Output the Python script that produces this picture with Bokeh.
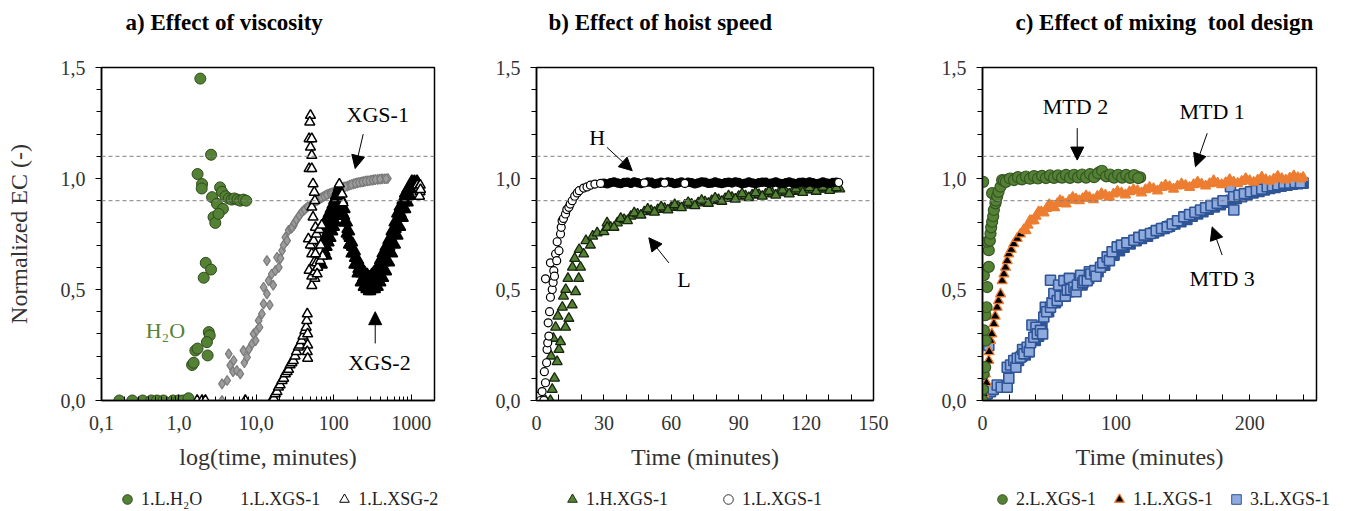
from bokeh.plotting import figure
from bokeh.layouts import row, column
from bokeh.models import (Range1d, FixedTicker, Span, Arrow, NormalHead, Label,
                          Legend, LegendItem)
from bokeh.embed import file_html
from bokeh.resources import INLINE

FONT = "Liberation Serif"

# ---------------- data: panel a (log time, minutes) ----------------
h2o_pts = [(0.17, 0), (0.25, 0), (0.34, 0), (0.44, 0), (0.52, 0), (0.63, 0), (0.84, 0), (0.99, 0),
           (1.13, 0), (1.33, 0.01), (1.48, 0.16), (1.55, 0.17), (1.63, 0.225), (1.74, 0.234),
           (1.89, 1.45), (1.74, 1.02), (1.99, 0.975), (1.97, 0.955), (2.22, 0.62), (2.6, 0.59),
           (2.09, 0.553), (2.43, 0.308), (2.5, 0.293), (2.3, 0.263), (2.35, 0.203), (2.6, 1.107),
           (2.8, 0.826), (2.95, 0.80), (3.4, 0.96), (3.6, 0.94), (2.68, 0.916), (3.1, 0.886),
           (3.7, 0.863), (3.25, 0.841), (4.0, 0.92), (4.4, 0.91), (4.8, 0.905), (5.2, 0.91),
           (5.7, 0.905), (6.2, 0.9), (6.8, 0.905), (7.4, 0.9)]

xgs1_pts = [(0.26, 0), (0.52, 0), (3.6, 0), (3.6, 0.075), (4.2, 0.09), (4.4, 0.21), (4.6, 0.158),
            (5.0, 0.13), (5.1, 0.18), (5.6, 0.135), (6.2, 0.12), (6.8, 0.225), (7.0, 0.17),
            (7.6, 0.195), (8.0, 0.23), (8.8, 0.255), (9.2, 0.30), (9.8, 0.27), (10.1, 0.315),
            (10.7, 0.36), (11.0, 0.33), (11.8, 0.39), (12.4, 0.435), (13.7, 0.48), (12.4, 0.51),
            (14.4, 0.54), (14.9, 0.43), (15.8, 0.57), (16.5, 0.52), (13.7, 0.63), (17.6, 0.585),
            (18.5, 0.645), (19.5, 0.60), (20.5, 0.64), (21.5, 0.675), (22.5, 0.70), (23.7, 0.735),
            (25.0, 0.72), (26.1, 0.766), (28.0, 0.775), (30.4, 0.788), (32.0, 0.805), (34.9, 0.826),
            (37.0, 0.84), (40.9, 0.856), (44.0, 0.866), (49.7, 0.878), (54.0, 0.89), (60.7, 0.9),
            (66.0, 0.91), (72.0, 0.916), (77.7, 0.923), (85.0, 0.93), (99.0, 0.938), (110.0, 0.946),
            (120.0, 0.952), (134.0, 0.961), (150.0, 0.966), (160.0, 0.97), (180.0, 0.976),
            (200.0, 0.98), (220.0, 0.983), (243.0, 0.986), (270.0, 0.989), (300.0, 0.992),
            (328.0, 0.994), (370.0, 0.996), (420.0, 0.998), (450.0, 0.999), (500.0, 1.0),
            (29, 0.78), (31, 0.8), (33, 0.815), (36, 0.833), (39, 0.85), (42, 0.86), (46, 0.872),
            (52, 0.884), (57, 0.895), (63, 0.905), (69, 0.913), (75, 0.92), (81, 0.926),
            (90, 0.933), (95, 0.936), (104, 0.942), (115, 0.949), (127, 0.957), (140, 0.963),
            (170, 0.973), (190, 0.978), (210, 0.982), (232, 0.985), (256, 0.988), (285, 0.99),
            (315, 0.993), (345, 0.995), (395, 0.997), (475, 0.999)]

# XGS-2: scattered readings
xgs2_pts = [(1.72, 0), (1.99, 0), (2.2, 0), (7.2, 0),
            (15.8, 0), (16.8, 0.01), (17.6, 0.03), (18.5, 0.04), (19.3, 0.06), (20.3, 0.07),
            (21.5, 0.09), (22.5, 0.1), (23.7, 0.12), (25, 0.13), (26.1, 0.14), (27.3, 0.16),
            (28.7, 0.17), (30, 0.18), (31.6, 0.2), (33, 0.22), (34.9, 0.24), (36.5, 0.25),
            (38.5, 0.27), (40, 0.29), (42.4, 0.315), (44, 0.33), (44.8, 0.36), (45.5, 0.39),
            (46, 0.3), (46, 0.25), (45.5, 0.22), (46, 0.19),
            (50, 1.284), (49, 1.254), (48, 1.179), (52, 1.179), (50, 1.141), (52, 1.104),
            (48, 1.044), (52, 1.044), (54, 0.976), (56, 0.938), (52, 0.871), (54, 0.826),
            (47, 0.728), (54, 0.698), (52, 0.661), (56, 0.623), (48, 0.586), (52, 0.518),
            (57, 0.9), (58, 0.78), (60, 0.62), (57, 0.55),
            (118, 0.975), (128, 0.93), (132, 0.89),
            (50, 0.70), (55, 0.72), (60, 0.75), (65, 0.77), (70, 0.79), (52, 0.56), (57, 0.58),
            (62, 0.60), (67, 0.63), (72, 0.65), (58, 0.66), (68, 0.70), (61, 0.57),
            (1200, 0.97), (1250, 0.96), (1300, 0.94), (1310, 0.97), (1280, 0.92), (1320, 0.95)]

# XGS-2: dense band of readings
xgs2_band = [(75, 0.80), (80, 0.82), (85, 0.84), (90, 0.86), (95, 0.88), (100, 0.90), (105, 0.92),
             (110, 0.94), (115, 0.96), (77, 0.67), (82, 0.69), (87, 0.71), (92, 0.73), (97, 0.76),
             (102, 0.78), (107, 0.80), (112, 0.83), (117, 0.86), (78, 0.74), (88, 0.78),
             (98, 0.82), (108, 0.86), (118, 0.91), (73, 0.72), (83, 0.76), (93, 0.80), (103, 0.84),
             (113, 0.89), (76, 0.77), (86, 0.81), (96, 0.85), (106, 0.89), (71, 0.61), (81, 0.65),
             (120, 0.94), (130, 0.90), (140, 0.86), (150, 0.80), (160, 0.76), (175, 0.71),
             (190, 0.67), (210, 0.63), (230, 0.60), (250, 0.58), (270, 0.57), (290, 0.56), (310, 0.57),
             (125, 0.85), (135, 0.80), (145, 0.75), (155, 0.70), (167, 0.66), (182, 0.61),
             (200, 0.57), (220, 0.53), (240, 0.51), (260, 0.50), (280, 0.49), (300, 0.49), (320, 0.50),
             (128, 0.87), (142, 0.80), (158, 0.73), (178, 0.66), (198, 0.61), (225, 0.57),
             (255, 0.54), (285, 0.52), (315, 0.53),
             (123, 0.90), (133, 0.84), (138, 0.83), (148, 0.77), (153, 0.74), (163, 0.70),
             (170, 0.69), (185, 0.64), (195, 0.64), (205, 0.59), (215, 0.60), (235, 0.55),
             (245, 0.55), (265, 0.52), (275, 0.53), (295, 0.51), (305, 0.54),
             (330, 0.58), (360, 0.60), (390, 0.63), (420, 0.66), (460, 0.69), (500, 0.72),
             (550, 0.76), (600, 0.80), (650, 0.84), (700, 0.87), (760, 0.90), (820, 0.93),
             (880, 0.95), (950, 0.97), (1020, 0.99), (1100, 0.99),
             (345, 0.50), (375, 0.51), (405, 0.53), (440, 0.55), (480, 0.58), (525, 0.62),
             (575, 0.66), (625, 0.70), (675, 0.74), (730, 0.78), (790, 0.82), (850, 0.86),
             (915, 0.89), (985, 0.92), (1060, 0.95), (1140, 0.97),
             (350, 0.55), (400, 0.58), (450, 0.62), (510, 0.67), (580, 0.71), (640, 0.77),
             (710, 0.82), (790, 0.87), (870, 0.91), (960, 0.95),
             (338, 0.54), (368, 0.56), (380, 0.59), (410, 0.60), (430, 0.63), (470, 0.64),
             (490, 0.67), (530, 0.69), (560, 0.73), (610, 0.75), (620, 0.78), (660, 0.79),
             (690, 0.82), (740, 0.84), (770, 0.86), (830, 0.89), (900, 0.93), (930, 0.92),
             (1000, 0.95), (1050, 0.97), (1120, 0.98), (1160, 0.985), (1190, 0.99), (1230, 0.98)]

# ---------------- data: panel b (time, minutes) ----------------
low_pts = [(0.0, 0.01), (0.5, 0.0), (1.0, 0.02), (1.8, 0.0), (2.5, 0.04), (3.3, 0.0), (3.5, 0.13),
           (4.0, 0.08), (4.5, 0.17), (4.7, 0.23), (5.0, 0.26), (5.5, 0.29), (5.2, 0.35), (5.8, 0.40),
           (6.2, 0.465), (4.0, 0.548), (7.0, 0.50), (6.2, 0.62), (7.7, 0.585), (7.4, 0.532),
           (8.0, 0.56), (8.5, 0.66), (9.0, 0.63), (10.0, 0.675), (9.2, 0.715), (10.7, 0.75),
           (11.0, 0.78), (11.4, 0.81), (12.0, 0.82), (12.9, 0.84), (13.5, 0.86), (14.4, 0.87),
           (15.0, 0.885), (15.9, 0.90), (17.0, 0.92), (18.1, 0.935), (19.0, 0.945), (21.0, 0.957),
           (22.5, 0.962), (24.0, 0.97), (26.0, 0.975), (28.5, 0.978), (48, 0.98), (57, 0.98),
           (66, 0.978), (134.5, 0.982)]

low_band = [(30, 0.979), (33, 0.981), (36, 0.98), (39, 0.982), (42, 0.978), (45, 0.981),
            (51, 0.983), (54, 0.979), (60, 0.982), (63, 0.98), (69, 0.981),
            (72, 0.98), (75, 0.983), (78, 0.979), (81, 0.98), (84, 0.981), (87, 0.98), (90, 0.982),
            (93, 0.979), (96, 0.98), (99, 0.981), (102, 0.983), (105, 0.98), (108, 0.979),
            (111, 0.981), (114, 0.98), (117, 0.982), (120, 0.98), (123, 0.981), (126, 0.979),
            (129, 0.98), (132, 0.982),
            (31.5, 0.976), (34.5, 0.984), (37.5, 0.977), (40.5, 0.983), (43.5, 0.985), (46.5, 0.977),
            (49.5, 0.984), (52.5, 0.976), (55.5, 0.983), (58.5, 0.985), (61.5, 0.977), (64.5, 0.984),
            (67.5, 0.983), (70.5, 0.976), (73.5, 0.985), (76.5, 0.978), (79.5, 0.984), (82.5, 0.977),
            (85.5, 0.983), (88.5, 0.985), (91.5, 0.976), (94.5, 0.984), (97.5, 0.977), (100.5, 0.983),
            (103.5, 0.978), (106.5, 0.985), (109.5, 0.977), (112.5, 0.984), (115.5, 0.976),
            (118.5, 0.983), (121.5, 0.985), (124.5, 0.977), (127.5, 0.984), (130.5, 0.978),
            (133.5, 0.983)]

high_pts = [(4.0, 0.0), (6.2, 0.0), (6.5, 0.2), (7.0, 0.05), (7.5, 0.28), (8.0, 0.1), (8.5, 0.33),
            (9.2, 0.175), (9.5, 0.38), (10.0, 0.23), (10.7, 0.265), (11.5, 0.42), (12.0, 0.47),
            (12.9, 0.33), (13.0, 0.5), (14.0, 0.55), (14.4, 0.37), (15.9, 0.43), (16.0, 0.60),
            (17.0, 0.64), (17.4, 0.49), (18.8, 0.55), (19.0, 0.68), (19.6, 0.60), (21.0, 0.66),
            (22.0, 0.72), (24.0, 0.70), (25.0, 0.74), (27.0, 0.755), (31.4, 0.80),
            (30, 0.76), (33, 0.78), (36, 0.80), (39, 0.815), (42, 0.83), (45, 0.84), (48, 0.85),
            (51, 0.855), (54, 0.86), (57, 0.865), (60, 0.87), (63, 0.875), (66, 0.88), (69, 0.885),
            (72, 0.89), (75, 0.895), (78, 0.9), (81, 0.905), (84, 0.91), (87, 0.915), (90, 0.92),
            (93, 0.922), (96, 0.925), (99, 0.928), (102, 0.93), (105, 0.933), (108, 0.936),
            (111, 0.939), (114, 0.942), (117, 0.945), (120, 0.948), (123, 0.95), (126, 0.952),
            (129, 0.953), (132, 0.954), (135, 0.953),
            (31.5, 0.78), (34.5, 0.78), (37.5, 0.82), (40.5, 0.81), (43.5, 0.845), (46.5, 0.835),
            (49.5, 0.862), (52.5, 0.848), (55.5, 0.872), (58.5, 0.858), (61.5, 0.882), (64.5, 0.868),
            (67.5, 0.892), (70.5, 0.877), (73.5, 0.902), (76.5, 0.888), (79.5, 0.912), (82.5, 0.897),
            (85.5, 0.922), (88.5, 0.907), (91.5, 0.931), (94.5, 0.914), (97.5, 0.936), (100.5, 0.92),
            (103.5, 0.942), (106.5, 0.925), (109.5, 0.947), (112.5, 0.93), (115.5, 0.953),
            (118.5, 0.937), (121.5, 0.958), (124.5, 0.942), (127.5, 0.96), (130.5, 0.946),
            (133.5, 0.958)]

# ---------------- data: panel c (time, minutes) ----------------
mtd2_pts = [(0, 0.0), (0.5, 0.985), (0.3, 0.05), (0.8, 0.12), (1, 0.316), (2, 0.15), (2.2, 0.384),
            (2.5, 0.27), (1, 0.564), (3, 0.42), (3.5, 0.511), (4.7, 0.602), (4.7, 0.677),
            (3.5, 0.715), (5.5, 0.72), (6, 0.752), (6.5, 0.78), (7.2, 0.805), (8, 0.83),
            (8.5, 0.858), (9.7, 0.888), (7.2, 0.934), (10, 0.9), (11, 0.92), (12, 0.94),
            (13.5, 0.963), (14.7, 0.993),
            (16, 0.99), (19, 0.995), (22, 0.998), (25, 1.0), (28, 1.0), (31, 1.002), (34, 1.003),
            (37, 1.003), (40, 1.005), (43, 1.005), (46, 1.006), (49, 1.006), (52, 1.007),
            (55, 1.008), (58, 1.008), (61, 1.009), (64, 1.008), (67, 1.01), (70, 1.01), (73, 1.01),
            (76, 1.012), (79, 1.01), (82, 1.012), (85, 1.015), (88, 1.03), (91, 1.02), (94, 1.012),
            (97, 1.01), (100, 1.01), (103, 1.012), (106, 1.01), (109, 1.01), (112, 1.008),
            (115, 1.01), (118, 1.005),
            (17.5, 0.985), (20.5, 1.0), (23.5, 0.993), (26.5, 1.006), (29.5, 0.996), (32.5, 1.009),
            (35.5, 0.999), (38.5, 1.011), (41.5, 1.0), (44.5, 1.012), (47.5, 1.002), (50.5, 1.014),
            (53.5, 1.003), (56.5, 1.014), (59.5, 1.004), (62.5, 1.016), (65.5, 1.003), (68.5, 1.017),
            (71.5, 1.005), (74.5, 1.018), (77.5, 1.004), (80.5, 1.02), (83.5, 1.006), (86.5, 1.024),
            (89.5, 1.035), (92.5, 1.01), (95.5, 1.018), (98.5, 1.004), (101.5, 1.017), (104.5, 1.004),
            (107.5, 1.016), (110.5, 1.003), (113.5, 1.015), (116.5, 1.002)]

mtd1_pts = [(0, 0.0), (1, 0.03), (2.2, 0.12), (3, 0.08), (4.7, 0.18), (5, 0.22), (6, 0.27),
            (7, 0.3), (8.5, 0.346), (9.5, 0.38), (11, 0.42), (12, 0.45), (13.5, 0.48),
            (14.7, 0.54), (16, 0.57), (17.2, 0.60), (18.5, 0.63), (19.7, 0.66), (21.5, 0.68),
            (23.4, 0.706), (26, 0.73), (28.4, 0.75),
            (31, 0.77), (34, 0.79), (37, 0.81), (40, 0.83), (44, 0.85), (48, 0.865), (52, 0.877),
            (56, 0.887), (60, 0.895), (65, 0.902), (70, 0.907), (75, 0.91), (80, 0.915),
            (86, 0.92), (92, 0.925), (98, 0.93), (104, 0.935), (110, 0.94), (116, 0.945),
            (122, 0.95), (128, 0.955), (134, 0.96), (140, 0.963), (146, 0.966), (152, 0.969),
            (158, 0.972), (164, 0.975), (170, 0.977), (176, 0.979), (182, 0.981), (188, 0.984),
            (194, 0.987), (200, 0.99), (206, 0.993), (212, 0.995), (218, 0.997), (224, 1.0),
            (230, 1.002), (236, 1.004), (240, 1.005),
            (32.5, 0.765), (35.5, 0.81), (38.5, 0.81), (42, 0.85), (46, 0.845), (50, 0.882),
            (54, 0.868), (58, 0.9), (62.5, 0.885), (67.5, 0.915), (72.5, 0.9), (77.5, 0.922),
            (83, 0.905), (89, 0.932), (95, 0.916), (101, 0.942), (107, 0.926), (113, 0.95),
            (119, 0.935), (125, 0.96), (131, 0.944), (137, 0.97), (143, 0.952), (149, 0.976),
            (155, 0.96), (161, 0.984), (167, 0.966), (173, 0.99), (179, 0.972), (185, 0.995),
            (191, 0.978), (197, 1.0), (203, 0.983), (209, 1.006), (215, 0.988), (221, 1.01),
            (227, 0.993), (233, 1.012), (238, 0.998)]

mtd3_pts = [(0, 0.0), (1, 0.01), (2, 0.02), (3.5, 0.03), (4.7, 0.248), (6, 0.04), (8, 0.05),
            (11, 0.07), (14, 0.06), (18.5, 0.06), (19.7, 0.10), (18.5, 0.15), (21, 0.16),
            (23.4, 0.18), (25, 0.15), (26, 0.19), (28.4, 0.195), (30, 0.23), (31, 0.21),
            (33.4, 0.24), (35, 0.22), (36, 0.26), (38.4, 0.285), (37, 0.34), (40, 0.33),
            (41, 0.3), (43.4, 0.316), (45, 0.3), (45.9, 0.376), (47, 0.42), (48, 0.4),
            (50.9, 0.42), (50.9, 0.542), (52, 0.44), (53.4, 0.482), (55.9, 0.45), (57, 0.52),
            (58, 0.47), (60.9, 0.54), (62, 0.47), (63.4, 0.497), (65, 0.55), (66, 0.5),
            (68.4, 0.51), (70, 0.49), (71, 0.52), (73.4, 0.564), (75, 0.53), (76, 0.54),
            (78.4, 0.54), (80, 0.58), (81, 0.57), (84, 0.585), (85, 0.56), (88.3, 0.60),
            (90, 0.62), (93.3, 0.647), (95, 0.63), (97, 0.67), (100.8, 0.692), (104, 0.70),
            (108, 0.71), (113.3, 0.722), (117, 0.735), (121, 0.745), (125.7, 0.752), (130, 0.765),
            (134, 0.775), (138.2, 0.782), (142, 0.795), (146, 0.81), (150.7, 0.827), (155, 0.838),
            (159, 0.848), (163.2, 0.858), (167, 0.868), (171, 0.878), (175.7, 0.888), (180, 0.90),
            (185.6, 0.963), (188.1, 0.858), (188, 0.918), (192, 0.925), (196, 0.932), (200.6, 0.94),
            (205, 0.946), (209, 0.952), (213.1, 0.963), (217, 0.967), (221, 0.972), (225.6, 0.978),
            (230, 0.98), (234, 0.982), (238, 0.981)]

mtd3_band = [(21.5, 0.15), (24, 0.17), (27, 0.18), (29.5, 0.2), (32, 0.205), (34.5, 0.22),
             (39.5, 0.27), (42, 0.29), (44.5, 0.33), (49.5, 0.4), (54.5, 0.44), (59.5, 0.47),
             (64.5, 0.49), (69.5, 0.5), (74.5, 0.52), (79.5, 0.55), (82.5, 0.56), (86.5, 0.58),
             (91.5, 0.61), (98.5, 0.655), (102.5, 0.675), (106, 0.69), (110.5, 0.705), (115, 0.72),
             (119, 0.73), (123.5, 0.74), (128, 0.755), (132, 0.765), (136, 0.775), (140, 0.785),
             (144, 0.795), (148.5, 0.805), (153, 0.815), (157, 0.83), (161, 0.84), (165, 0.85),
             (169, 0.862), (173.5, 0.872), (178, 0.882), (182, 0.893), (186, 0.902), (190, 0.91),
             (194, 0.918), (198, 0.926), (202.5, 0.935), (207, 0.942), (211, 0.948), (215, 0.955),
             (219, 0.96), (223.5, 0.965), (228, 0.97), (232, 0.974), (236, 0.977), (240, 0.979)]

y_ticks = [0.0, 0.5, 1.0, 1.5]
y_labels = ["0,0", "0,5", "1,0", "1,5"]
a_ticks = [0.1, 1.0, 10.0, 100.0, 1000.0]
a_labels = ["0,1", "1,0", "10,0", "100", "1000"]

GREEN = "#548235"
GREEN_DK = "#2f4a1c"
TITLE_H = 48
LEG_H = 24
TOP_B = 67 - TITLE_H
BOT_B = 511 - LEG_H - 400
MAIN_H = TOP_B + 333 + BOT_B


def xs(pts):
    return [p[0] for p in pts]


def ys(pts):
    return [p[1] for p in pts]


def blank_fig(width, height):
    f = figure(width=width, height=height, x_range=Range1d(0, 1), y_range=Range1d(0, 1),
               x_axis_location=None, y_axis_location=None, output_backend="svg",
               toolbar_location=None, min_border=0, outline_line_color=None)
    f.grid.visible = False
    return f


def title_fig(width, text, offset):
    f = blank_fig(width, TITLE_H)
    f.title.text = text
    f.title.align = "left"
    f.title.vertical_align = "top"
    f.title.offset = offset
    f.title.text_font = FONT
    f.title.text_font_size = "23px"
    f.title.text_font_style = "bold"
    f.title.text_color = "black"
    f.title.standoff = 18
    return f


def make_fig(width, left, right, x_range, x_type="linear"):
    p = figure(width=width, height=MAIN_H, x_range=x_range, y_range=Range1d(0, 1.5),
               x_axis_type=x_type, output_backend="svg", toolbar_location=None,
               min_border_left=left, min_border_right=right, min_border_top=TOP_B,
               min_border_bottom=BOT_B)
    p.grid.visible = False
    p.outline_line_color = "black"
    p.outline_line_width = 1.5
    p.background_fill_color = "white"
    p.border_fill_color = "white"
    for ax in (p.xaxis[0], p.yaxis[0]):
        ax.axis_line_color = "black"
        ax.axis_line_width = 1.5
        ax.major_tick_line_color = "black"
        ax.minor_tick_line_color = "black"
        ax.major_label_text_font = FONT
        ax.major_label_text_font_size = "20px"
        ax.major_label_text_color = "#333333"
        ax.axis_label_text_font = FONT
        ax.axis_label_text_font_size = "24px"
        ax.axis_label_text_font_style = "normal"
        ax.axis_label_text_color = "#333333"
    yax = p.yaxis[0]
    yax.ticker = FixedTicker(ticks=y_ticks, minor_ticks=[0.1, 0.2, 0.3, 0.4, 0.6, 0.7, 0.8, 0.9,
                                                         1.1, 1.2, 1.3, 1.4])
    yax.major_label_overrides = {t: l for t, l in zip(y_ticks, y_labels)}
    yax.major_tick_in = 0
    yax.major_tick_out = 6
    yax.minor_tick_in = 0
    yax.minor_tick_out = 5
    yax.major_label_standoff = 10
    xax = p.xaxis[0]
    xax.major_tick_in = 6
    xax.major_tick_out = 0
    xax.minor_tick_in = 6
    xax.minor_tick_out = 0
    xax.major_label_standoff = 15
    xax.axis_label_standoff = 11
    for loc in (0.9, 1.1):
        p.add_layout(Span(location=loc, dimension="width", line_color="#808080",
                          line_dash="4 3", line_width=1))
    return p


def add_label(p, x, y, text, color="black"):
    p.add_layout(Label(x=x, y=y, text=text, text_font=FONT, text_font_size="22px",
                       text_color=color, text_align="center", text_baseline="middle"))


def add_arrow(p, x0, y0, x1, y1):
    p.add_layout(Arrow(end=NormalHead(size=13, fill_color="black", line_color="black"),
                       x_start=x0, y_start=y0, x_end=x1, y_end=y1,
                       line_color="black", line_width=1))


def legend_fig(width, x0, spacing, specs):
    lf = blank_fig(width, LEG_H)
    items = []
    for label, kw in specs:
        # legend proxy glyph, kept outside the visible range
        r = lf.scatter([-5], [-5], **kw)
        items.append(LegendItem(label=label, renderers=[r]))
    leg = Legend(items=items, orientation="horizontal", location=(x0, 0),
                 border_line_color=None, background_fill_alpha=0, label_text_font=FONT,
                 label_text_font_size="18px", label_text_color="#222222",
                 glyph_width=28, glyph_height=24, spacing=spacing, padding=0, margin=0,
                 label_standoff=0)
    lf.add_layout(leg, "center")
    return lf


# ---------------- panel a ----------------
ta = title_fig(470, "a) Effect of viscosity", 125)
pa = make_fig(470, 101, 36, Range1d(0.1, 2000), "log")
pa.xaxis.axis_label = "log(time, minutes)"
pa.yaxis.axis_label = "Normalized EC (-)"
pa.yaxis.axis_label_standoff = 26
pa.xaxis.ticker = FixedTicker(ticks=a_ticks,
                              minor_ticks=[m * 10.0 ** e for e in range(-1, 4) for m in range(2, 10)])
pa.xaxis.major_label_overrides = {t: l for t, l in zip(a_ticks, a_labels)}
pa.xaxis.minor_tick_in = 4

H2O_STYLE = dict(marker="circle", size=11, fill_color=GREEN, line_color=GREEN_DK, line_width=1)
pa.scatter(xs(xgs1_pts), ys(xgs1_pts), marker="diamond", size=10, fill_color="#9c9c9c",
           line_color="#7a7a7a", line_width=1.2)
pa.scatter(xs(xgs2_band), ys(xgs2_band), marker="triangle", size=10, fill_color="black",
           line_color="black", line_width=1.5)
pa.scatter(xs(xgs2_pts), ys(xgs2_pts), marker="triangle", size=10, fill_color="white",
           line_color="black", line_width=1.5)
pa.scatter(xs(h2o_pts), ys(h2o_pts), **H2O_STYLE)
add_label(pa, 370, 1.29, "XGS-1")
add_arrow(pa, 240, 1.2, 189, 1.045)
add_label(pa, 390, 0.17, "XGS-2")
add_arrow(pa, 343, 0.257, 343, 0.40)
add_label(pa, 0.67, 0.315, "H\u2082O", GREEN)
la = legend_fig(470, 113, 10, [
    ("1.L.H\u2082O", H2O_STYLE),
    ("1.L.XGS-1", dict(marker="diamond", fill_color="white", line_color="white")),
    ("1.L.XSG-2", dict(marker="triangle", fill_color="white", line_color="black", line_width=1)),
])

# ---------------- panel b ----------------
tb = title_fig(445, "b) Effect of hoist speed", 78)
pb = make_fig(445, 66, 42, Range1d(0, 150))
pb.xaxis.axis_label = "Time (minutes)"
pb.xaxis.ticker = FixedTicker(ticks=[0, 30, 60, 90, 120, 150],
                              minor_ticks=[10, 20, 40, 50, 70, 80, 100, 110, 130, 140])
pb.scatter(xs(high_pts), ys(high_pts), marker="triangle", size=10, fill_color=GREEN,
           line_color="#17240e", line_width=1.3)
pb.scatter(xs(low_band), ys(low_band), marker="circle", size=8, fill_color="black",
           line_color="black", line_width=1.4)
pb.scatter(xs(low_pts), ys(low_pts), marker="circle", size=8, fill_color="white",
           line_color="black", line_width=1.2)
add_label(pb, 27, 1.185, "H")
add_arrow(pb, 31.4, 1.14, 42.6, 1.035)
add_label(pb, 65.6, 0.545, "L")
add_arrow(pb, 58.9, 0.62, 50, 0.733)
lb = legend_fig(445, 88, 46, [
    ("1.H.XGS-1", dict(marker="triangle", fill_color=GREEN, line_color="#1e2e12")),
    ("1.L.XGS-1", dict(marker="circle", fill_color="white", line_color="#333333")),
])

# ---------------- panel c ----------------
tc = title_fig(435, "c) Effect of mixing\u00a0 tool design", 100)
pc = make_fig(435, 67, 34, Range1d(0, 250))
pc.xaxis.axis_label = "Time (minutes)"
pc.xaxis.ticker = FixedTicker(ticks=[0, 100, 200],
                              minor_ticks=[20, 40, 60, 80, 120, 140, 160, 180, 220, 240])
mtd1_fill = ["black" if x < 30 else "#ed7d31" for x in xs(mtd1_pts)]
pc.scatter(xs(mtd3_band), ys(mtd3_band), marker="square", size=10, fill_color="#2f5597",
           line_color="#2f5597", line_width=1.6)
pc.scatter(xs(mtd3_pts), ys(mtd3_pts), marker="square", size=10, fill_color="#8faadc",
           line_color="#2f5597", line_width=1.6)
pc.scatter(xs(mtd1_pts), ys(mtd1_pts), marker="triangle", size=10,
           fill_color=mtd1_fill, line_color="#ed7d31", line_width=1.3)
pc.scatter(xs(mtd2_pts), ys(mtd2_pts), marker="circle", size=11,
           fill_color=GREEN, line_color="#375623", line_width=1.2)
add_label(pc, 69.6, 1.324, "MTD 2")
add_arrow(pc, 70.9, 1.227, 70.9, 1.083)
add_label(pc, 171.9, 1.30, "MTD 1")
add_arrow(pc, 168.2, 1.204, 159.4, 1.053)
add_label(pc, 179.4, 0.549, "MTD 3")
add_arrow(pc, 179.4, 0.655, 171.9, 0.782)
lc = legend_fig(435, 73, 9, [
    ("2.L.XGS-1", dict(marker="circle", fill_color=GREEN, line_color="#375623")),
    ("1.L.XGS-1", dict(marker="triangle", fill_color="black", line_color="#ed7d31", line_width=1.3)),
    ("3.L.XGS-1", dict(marker="square", fill_color="#8faadc", line_color="#2f5597")),
])

layout = column(row(ta, tb, tc), row(pa, pb, pc), row(la, lb, lc))
open("out.html", "w").write(file_html(layout, INLINE))
